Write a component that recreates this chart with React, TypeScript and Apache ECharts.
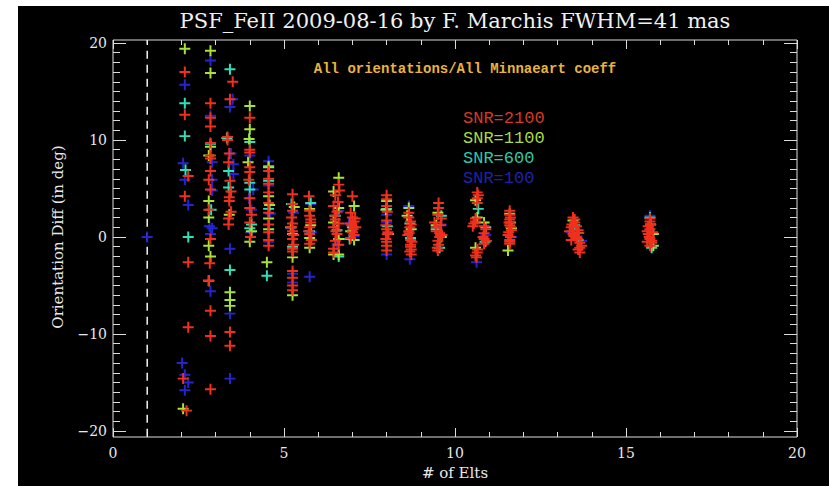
import React, { useEffect, useRef } from "react";
import * as echarts from "echarts";

type Pt = [number, number];

const chartTitle = "PSF_FeII 2009-08-16 by F. Marchis FWHM=41 mas";
const subTitle = "All orientations/All Minnaeart coeff";
const xAxisTitle = "# of Elts";
const yAxisTitle = "Orientation Diff (in deg)";
const seriesNames = ["SNR=2100", "SNR=1100", "SNR=600", "SNR=100"];
const seriesColors = ["#f0301c", "#a6e23a", "#2ee0b8", "#2424d0"];
const legendColors = ["#d83828", "#a8dc40", "#30c8a8", "#2020b0"];
const xTicks = [0, 5, 10, 15, 20];
const yTicks = [-20, -10, 0, 10, 20];
const referenceX = 1;

// Orientation difference (deg) vs number of elements, per SNR level
const snr2100: Pt[] = [
  [2.1, 17.0], [2.1, 12.6], [2.2, 6.3], [2.1, 4.2], [2.2, -2.6], [2.2, -9.3], [2.05, -14.6], [2.15, -17.9],
  [2.85, 13.8], [2.85, 12.3], [2.85, 11.4], [2.85, 9.7], [2.85, 8.4], [2.85, 8.1], [2.85, 6.8], [2.8, 5.9],
  [2.85, 4.9], [2.8, 2.8], [2.85, -0.2], [2.83, -2.7], [2.8, -4.5], [2.85, -7.6], [2.85, -10.2], [2.85, -15.7],
  [3.5, 16.0], [3.42, 14.2], [3.35, 10.3], [3.35, 10.0], [3.4, 8.6], [3.38, 7.7], [3.42, 5.8], [3.45, 4.7],
  [3.4, 4.1], [3.4, 3.7], [3.45, 2.6], [3.38, 1.9], [3.38, 1.3], [3.42, -9.8], [3.42, -11.2],
  [4.0, 12.3], [4.0, 9.0], [4.0, 8.7], [4.0, 7.2], [4.0, 6.7], [3.97, 5.9], [4.0, 4.0], [4.0, 3.0],
  [4.05, 2.3], [4.0, 1.5], [4.02, 0.0],
  [4.55, 6.8], [4.55, 6.0], [4.55, 5.5], [4.55, 4.6], [4.55, 3.5], [4.55, 2.5], [4.55, 1.3], [4.55, 0.5],
  [4.55, -0.3], [4.55, -0.9],
  [5.25, 4.4], [5.25, 3.4], [5.25, 2.7], [5.22, 2.0], [5.25, 1.4], [5.22, 1.0], [5.25, 0.6], [5.28, 0.2],
  [5.25, -0.2], [5.28, -0.8], [5.25, -1.2], [5.25, -1.5],
  [5.25, -3.5], [5.25, -4.2], [5.25, -5.0], [5.25, -5.5],
  [5.73, 4.2], [5.75, 2.7], [5.75, 2.2], [5.78, 1.8], [5.78, 1.5], [5.75, 1.0], [5.72, 0.6], [5.75, 0.3],
  [5.8, -0.3], [5.75, -0.7],
  [6.6, 5.4], [6.62, 4.8], [6.5, 4.3], [6.58, 3.6], [6.45, 3.2], [6.55, 2.6], [6.48, 2.2], [6.5, 1.8],
  [6.6, 1.4], [6.45, 1.0], [6.52, 0.6], [6.55, 0.3], [6.5, -0.4], [6.6, -0.8], [6.45, -1.2], [6.45, -1.6],
  [7.0, 4.2], [6.95, 2.5], [7.0, 2.0], [7.08, 1.9], [7.05, 1.6], [6.93, 1.4], [6.98, 1.2], [7.1, 1.0],
  [7.02, 0.8], [7.0, 0.5], [7.05, 0.2], [6.95, -0.1],
  [8.0, 4.3], [8.0, 3.9], [8.0, 3.2], [8.02, 2.6], [8.0, 1.7], [7.98, 1.2], [8.0, 0.8], [8.04, 0.5],
  [8.02, 0.3], [7.98, -0.2], [8.0, -0.5], [8.0, -0.9], [8.0, -1.4],
  [8.65, 2.5], [8.65, 2.0], [8.7, 1.6], [8.72, 1.3], [8.68, 1.0], [8.65, 0.6], [8.66, 0.4], [8.62, 0.2],
  [8.7, -0.3], [8.74, -0.5], [8.7, -0.8], [8.7, -1.0], [8.72, -1.3], [8.68, -1.5], [8.72, -1.8],
  [9.52, 3.5], [9.52, 3.0], [9.5, 2.3], [9.6, 1.9], [9.4, 1.5], [9.58, 1.2], [9.45, 1.0], [9.45, 0.6],
  [9.55, 0.4], [9.62, 0.2], [9.55, 0.0], [9.5, -0.4], [9.52, -0.8], [9.48, -1.1], [9.5, -1.4],
  [10.65, 4.6], [10.68, 4.3], [10.65, 4.0], [10.65, 3.5], [10.6, 1.9], [10.6, 1.6], [10.55, 1.4], [10.85, 1.1],
  [10.52, 1.1], [10.9, 0.8], [10.85, 0.4], [10.82, 0.0], [10.85, -0.2], [10.92, -0.4], [10.85, -0.7],
  [10.66, -1.3], [10.65, -1.6], [10.6, -1.9], [10.63, -2.1],
  [11.6, 2.7], [11.6, 2.3], [11.62, 2.0], [11.6, 1.8], [11.58, 1.5], [11.6, 1.2], [11.63, 1.0], [11.65, 0.7],
  [11.57, 0.5], [11.55, 0.2], [11.62, 0.0], [11.6, -0.3], [11.6, -0.5], [11.6, -0.7],
  [13.45, 2.0], [13.5, 1.8], [13.5, 1.5], [13.42, 1.3], [13.55, 1.1], [13.4, 1.0], [13.6, 0.7], [13.35, 0.6],
  [13.62, 0.4], [13.45, 0.3], [13.48, 0.1], [13.55, 0.0], [13.58, -0.2], [13.4, -0.3], [13.65, -0.6],
  [13.7, -0.9], [13.65, -1.1], [13.6, -1.3], [13.65, -1.6],
  [15.7, 1.9], [15.7, 1.6], [15.72, 1.3], [15.65, 1.1], [15.7, 0.8], [15.62, 0.6], [15.78, 0.5], [15.65, 0.3],
  [15.68, 0.0], [15.7, -0.2], [15.75, -0.4], [15.62, -0.5], [15.75, -0.6], [15.7, -0.9],
];

const snr1100: Pt[] = [
  [2.1, 19.4], [2.05, -17.7],
  [2.85, 19.2], [2.85, 16.9], [2.85, 9.3], [2.8, 8.4], [2.8, 3.7], [2.8, 2.0], [2.8, -0.9], [2.85, -2.0], [2.8, -4.5],
  [3.4, 2.3], [3.42, -5.7], [3.42, -6.5], [3.42, -7.1],
  [4.0, 13.5], [4.0, 11.1], [3.98, 10.1], [3.95, 7.7], [4.05, 0.6], [4.0, -0.5],
  [4.55, 7.2], [4.55, 4.2], [4.58, 3.3], [4.55, 1.9], [4.55, 0.8], [4.5, -2.6],
  [5.3, 3.1], [5.2, 1.0], [5.25, -2.1], [5.25, -6.0],
  [5.75, 2.9], [5.78, 1.2], [5.75, -0.1], [5.75, -1.1],
  [6.6, 6.1], [6.45, 4.7], [6.6, 3.0], [6.45, 1.5], [6.6, -0.2], [6.45, -1.8], [6.6, -1.8],
  [7.05, 3.2], [6.95, 0.6], [7.05, -0.3],
  [8.0, 3.7], [7.98, 2.8], [8.05, 0.3],
  [8.65, 3.0], [8.6, 2.2], [8.72, 0.8],
  [9.5, 2.5], [9.45, 1.2], [9.6, 0.0],
  [10.6, 3.8], [10.65, 2.0], [10.85, 1.5], [10.6, -1.1],
  [11.6, 2.4], [11.65, 0.9], [11.55, -1.4],
  [13.45, 1.7], [13.6, 0.4],
  [15.72, 1.3], [15.8, 0.3], [15.8, -0.9],
];

const snr600: Pt[] = [
  [2.1, 13.8], [2.1, 10.4], [2.12, 6.9], [2.2, 0.0],
  [2.85, 9.6], [2.87, 2.8],
  [3.42, 17.3], [3.33, 10.2], [3.38, 6.8], [3.38, 5.1], [3.42, -3.4],
  [4.0, 9.8], [4.0, 5.6], [4.0, 4.9], [4.05, 1.3], [4.0, 0.9],
  [4.55, 7.3], [4.55, 5.8], [4.55, 2.9], [4.5, -4.0],
  [5.22, 3.4], [5.25, 0.3], [5.25, -1.0],
  [5.78, 3.5], [5.75, 0.6],
  [6.5, 2.2], [6.55, 0.7], [6.6, -2.0],
  [7.0, 1.0], [6.92, -0.2],
  [8.0, 2.9], [8.02, 1.1],
  [8.68, 1.4], [8.7, -0.1],
  [9.6, 2.2], [9.45, 0.8], [9.55, -1.1],
  [10.68, 2.9], [10.9, 1.0], [10.88, -0.5],
  [11.62, 1.5],
  [13.5, 1.2], [13.6, -0.3],
  [15.7, 2.0], [15.75, -1.1],
];

const snr100: Pt[] = [
  [1.0, 0.0],
  [2.1, 15.7], [2.05, 7.6], [2.1, 5.9], [2.2, 3.3], [2.02, -13.0], [2.1, -14.2], [2.2, -15.0], [2.1, -15.8],
  [2.85, 18.2], [2.85, 12.5], [2.9, 7.7], [2.9, 5.9], [2.9, 4.8], [2.82, 1.1], [2.9, 0.9], [2.85, 0.3], [2.85, -5.6],
  [3.5, 14.2], [3.42, 13.4], [3.45, 8.6], [3.52, 7.5], [3.52, 6.5], [3.42, -1.2], [3.42, -7.9], [3.42, -14.6],
  [4.0, 8.4], [4.1, 4.9], [3.98, 4.0], [4.05, 2.8], [4.02, 0.5],
  [4.55, 7.8], [4.55, 5.3], [4.6, 2.4], [4.55, -0.5],
  [5.28, 2.5], [5.2, 0.9], [5.25, -3.8], [5.25, -4.7],
  [5.78, 3.4], [5.8, 0.5], [5.75, -4.1],
  [6.6, 2.7], [6.55, -0.8],
  [6.9, 1.4], [7.05, 0.1],
  [8.0, 2.3], [8.0, 1.5], [8.0, -1.8],
  [8.65, 3.2], [8.68, -2.3],
  [9.6, 1.3], [9.5, -1.4],
  [10.9, 0.2], [10.63, -2.6],
  [11.65, 0.0],
  [13.4, 0.5], [13.7, -0.4],
  [15.7, 2.2],
];

const PLUS = "path://M-5,-0.9H5V0.9H-5Z M-0.9,-5H0.9V5H-0.9Z";
const AXIS_COLOR = "#dcdcdc";
const SERIF = "DejaVu Serif";

export default function App() {
  const ref = useRef<HTMLDivElement>(null);

  useEffect(() => {
    if (!ref.current) return;
    const chart = echarts.init(ref.current, undefined, { renderer: "svg" });

    const box = { left: 113, top: 40, right: 797, bottom: 437 };
    const gridTop = 43;
    const gridBottom = 431;

    const scatter = (name: string, data: Pt[], color: string) => ({
      name,
      type: "scatter",
      data,
      symbol: PLUS,
      symbolSize: 11,
      itemStyle: { color, opacity: 1 },
      xAxisIndex: 0,
      yAxisIndex: 0,
      silent: true,
    });

    const tickCommon = { lineStyle: { color: AXIS_COLOR, width: 1 } };
    const hiddenLine = { show: false, onZero: false };

    const option: any = {
      animation: false,
      backgroundColor: "#ffffff",
      grid: {
        left: box.left,
        right: 829 - box.right,
        top: gridTop,
        bottom: 486 - gridBottom,
        containLabel: false,
      },
      xAxis: [
        {
          type: "value",
          min: xTicks[0],
          max: xTicks[xTicks.length - 1],
          interval: xTicks[1] - xTicks[0],
          position: "bottom",
          offset: box.bottom - gridBottom,
          axisLine: hiddenLine,
          axisTick: { show: true, inside: true, length: 9, ...tickCommon },
          minorTick: { show: true, splitNumber: 5, length: 5, ...tickCommon },
          splitLine: { show: false },
          minorSplitLine: { show: false },
          axisLabel: { color: "#e8e8e8", fontFamily: SERIF, fontSize: 14, margin: 9 },
          name: xAxisTitle,
          nameLocation: "middle",
          nameGap: 28,
          nameTextStyle: { color: "#e8e8e8", fontFamily: SERIF, fontSize: 15 },
        },
        {
          type: "value",
          min: xTicks[0],
          max: xTicks[xTicks.length - 1],
          interval: xTicks[1] - xTicks[0],
          position: "top",
          offset: gridTop - box.top,
          axisLine: hiddenLine,
          axisTick: { show: true, inside: true, length: 9, ...tickCommon },
          minorTick: { show: true, splitNumber: 5, length: 5, ...tickCommon },
          splitLine: { show: false },
          minorSplitLine: { show: false },
          axisLabel: { show: false },
        },
      ],
      yAxis: [
        {
          type: "value",
          min: yTicks[0],
          max: yTicks[yTicks.length - 1],
          interval: yTicks[1] - yTicks[0],
          position: "left",
          axisLine: hiddenLine,
          axisTick: { show: true, inside: true, length: 13, ...tickCommon },
          minorTick: { show: true, splitNumber: 10, length: 7, ...tickCommon },
          splitLine: { show: false },
          minorSplitLine: { show: false },
          axisLabel: {
            color: "#e8e8e8",
            fontFamily: SERIF,
            fontSize: 14,
            margin: 6,
            formatter: (v: number) => (v < 0 ? "\u2212" + Math.abs(v) : String(v)),
          },
          name: yAxisTitle,
          nameLocation: "middle",
          nameRotate: 90,
          nameGap: 48,
          nameTextStyle: { color: "#e8e8e8", fontFamily: SERIF, fontSize: 15 },
        },
        {
          type: "value",
          min: yTicks[0],
          max: yTicks[yTicks.length - 1],
          interval: yTicks[1] - yTicks[0],
          position: "right",
          axisLine: hiddenLine,
          axisTick: { show: true, inside: true, length: 13, ...tickCommon },
          minorTick: { show: true, splitNumber: 10, length: 7, ...tickCommon },
          splitLine: { show: false },
          minorSplitLine: { show: false },
          axisLabel: { show: false },
        },
      ],
      graphic: [
        {
          type: "rect",
          z: -10,
          silent: true,
          shape: { x: 18, y: 6, width: 829 - 18, height: 486 - 6 },
          style: { fill: "#000000" },
        },
        {
          type: "rect",
          z: 10,
          silent: true,
          shape: {
            x: box.left,
            y: box.top,
            width: box.right - box.left,
            height: box.bottom - box.top,
          },
          style: { fill: "none", stroke: AXIS_COLOR, lineWidth: 1 },
        },
        {
          type: "text",
          z: 10,
          x: 455,
          y: 21,
          style: {
            text: chartTitle,
            fill: "#f0f0f0",
            font: `21px "${SERIF}"`,
            textAlign: "center",
            textVerticalAlign: "middle",
          },
        },
        {
          type: "text",
          z: 10,
          x: 465,
          y: 69,
          style: {
            text: subTitle,
            fill: "#e8b43c",
            font: `bold 14px "Liberation Mono"`,
            textAlign: "center",
            textVerticalAlign: "middle",
          },
        },
        ...seriesNames.map((n, i) => ({
          type: "text",
          z: 10,
          x: 463,
          y: 118 + i * 20,
          style: {
            text: n,
            fill: legendColors[i],
            font: `17px "Liberation Mono"`,
            textAlign: "left",
            textVerticalAlign: "middle",
          },
        })),
      ],
      series: [
        {
          name: "ref",
          type: "line",
          data: [
            [referenceX, -20.6],
            [referenceX, 20.3],
          ],
          clip: false,
          symbol: "none",
          silent: true,
          lineStyle: { color: "#f4f4f4", width: 1.5, type: [8, 6] },
          z: 1,
        },
        scatter(seriesNames[3], snr100, seriesColors[3]),
        scatter(seriesNames[2], snr600, seriesColors[2]),
        scatter(seriesNames[1], snr1100, seriesColors[1]),
        scatter(seriesNames[0], snr2100, seriesColors[0]),
      ],
    };

    chart.setOption(option);
    return () => chart.dispose();
  }, []);

  return (
    <div
      ref={ref}
      style={{ position: "fixed", left: 0, top: 0, width: 829, height: 486 }}
    />
  );
}
